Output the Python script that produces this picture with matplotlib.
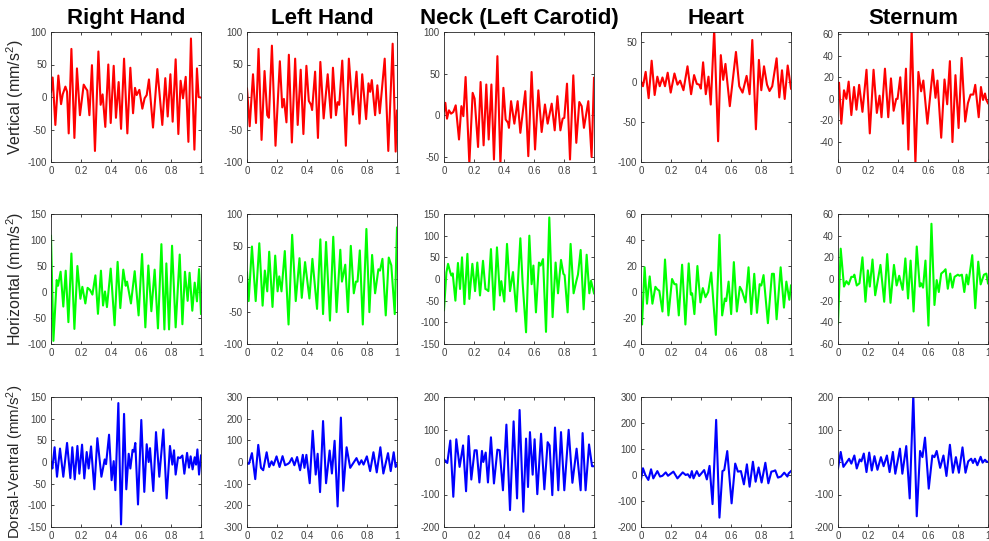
import matplotlib
matplotlib.use("Agg")
import matplotlib.pyplot as plt
from matplotlib.ticker import FuncFormatter

plt.rcParams['font.family'] = ['Liberation Sans', 'DejaVu Sans']
plt.rcParams['mathtext.fontset'] = 'custom'
plt.rcParams['mathtext.rm'] = 'Liberation Sans'
plt.rcParams['mathtext.it'] = 'Liberation Sans'

# column titles and row labels
col_titles = ['Right Hand', 'Left Hand', 'Neck (Left Carotid)', 'Heart', 'Sternum']
row_labels = [r'Vertical (mm/s$^2$)', r'Horizontal (mm/s$^2$)', r'Dorsal-Ventral (mm/s$^2$)']
row_label_sizes = [11.5, 11.5, 10.8]
row_colors = ['#ff0000', '#00ff00', '#0000ff']

# ---- row 1: vertical ----
rh_v_t = [0, 0.011, 0.029, 0.049, 0.067, 0.078, 0.096, 0.107, 0.118, 0.136, 0.156, 0.173, 0.193, 0.218, 0.233, 0.242,
          0.256, 0.273, 0.293, 0.316, 0.331, 0.344, 0.362, 0.382, 0.398, 0.418, 0.433, 0.451, 0.467, 0.487, 0.509,
          0.529, 0.547, 0.56, 0.571, 0.589, 0.609, 0.624, 0.638, 0.653, 0.68, 0.709, 0.742, 0.762, 0.778, 0.796,
          0.811, 0.831, 0.849, 0.864, 0.88, 0.898, 0.916, 0.933, 0.956, 0.973, 0.984, 1.0]
rh_v_y = [8, 30, -43, 33, -11, 4, 16, 8, -56, 74, -63, 44, -28, 19, 13, 10,
          -28, 49, -83, 70, -12, 4, -46, 50, -40, 48, -32, 23, -49, 59, -56,
          45, -25, 14, 3, 11, -18, -2, 3, 27, -47, 43, -43, 29, -30, 35,
          -38, 58, -57, 25, -2, 31, -69, 90, -81, 44, 0, -1]

lh_v_t = [0, 0.018, 0.04, 0.06, 0.077, 0.097, 0.117, 0.135, 0.146, 0.166, 0.19, 0.219, 0.235, 0.246, 0.263, 0.279,
          0.299, 0.321, 0.338, 0.358, 0.376, 0.396, 0.412, 0.427, 0.434, 0.454, 0.473, 0.489, 0.511, 0.538, 0.56,
          0.573, 0.593, 0.604, 0.615, 0.635, 0.659, 0.679, 0.706, 0.73, 0.75, 0.768, 0.794, 0.81, 0.821, 0.832,
          0.854, 0.869, 0.885, 0.918, 0.942, 0.971, 0.991, 1.0]
lh_v_y = [13, -45, 35, -40, 74, -66, 40, -28, -32, 79, -75, 55, -16, -3, -39, 65,
          -70, 59, -43, 42, -57, 48, -6, -12, -20, 39, -63, 54, -33, 35, -32,
          45, -28, -8, -12, 56, -75, 59, -27, 39, -41, 35, -34, 21, 8, 26,
          -28, 18, -25, 59, -83, 82, -84, -21]

nk_v_t = [0, 0.009, 0.02, 0.033, 0.047, 0.062, 0.078, 0.1, 0.116, 0.129, 0.144, 0.169, 0.191, 0.204, 0.227, 0.244,
          0.264, 0.282, 0.298, 0.316, 0.333, 0.356, 0.376, 0.396, 0.411, 0.427, 0.433, 0.447, 0.469, 0.491, 0.509,
          0.542, 0.562, 0.584, 0.607, 0.629, 0.651, 0.673, 0.691, 0.718, 0.738, 0.756, 0.776, 0.791, 0.802, 0.82,
          0.84, 0.862, 0.882, 0.902, 0.918, 0.933, 0.962, 0.984, 1.0]
nk_v_y = [5, 15, -4, 6, 2, 4, 12, -29, 11, -1, 46, -58, 27, 20, -38, 40,
          -36, 37, -29, 37, -53, 71, -58, 33, -5, -9, -15, 17, -10, 17, -21,
          29, -49, 52, -41, 30, -20, 13, -10, 14, -18, 23, -18, -4, -3, 38,
          -53, 48, -33, 16, 11, -15, 17, -50, 45]

ht_v_t = [0, 0.013, 0.031, 0.051, 0.071, 0.091, 0.109, 0.125, 0.143, 0.16, 0.178, 0.198, 0.223, 0.243, 0.261, 0.283,
          0.31, 0.334, 0.354, 0.372, 0.388, 0.399, 0.414, 0.432, 0.45, 0.465, 0.488, 0.514, 0.532, 0.548, 0.563,
          0.592, 0.633, 0.655, 0.677, 0.704, 0.724, 0.742, 0.766, 0.786, 0.802, 0.82, 0.84, 0.857, 0.875, 0.904,
          0.922, 0.94, 0.958, 0.978, 1.0]
ht_v_y = [1, -5, 13, -20, 27, -16, 7, -5, 6, -5, 12, -13, 11, -3, 2, -10,
          20, -15, 9, -2, -3, -8, 25, -15, 7, -28, 66, -74, 34, 3, 23,
          -30, 38, -5, -13, 8, -15, 53, -59, 28, -10, 20, -3, -11, -5, 30,
          -19, 15, -21, 21, -8]

st_v_t = [0, 0.007, 0.022, 0.04, 0.056, 0.071, 0.089, 0.107, 0.123, 0.141, 0.163, 0.19, 0.212, 0.237, 0.259, 0.277,
          0.29, 0.313, 0.335, 0.353, 0.371, 0.388, 0.397, 0.415, 0.433, 0.453, 0.469, 0.491, 0.516, 0.536, 0.554,
          0.569, 0.596, 0.632, 0.65, 0.663, 0.688, 0.71, 0.728, 0.746, 0.763, 0.783, 0.804, 0.824, 0.848, 0.866,
          0.884, 0.902, 0.915, 0.938, 0.953, 0.967, 0.98, 0.989, 1.0]
st_v_y = [10, 15, -23, 8, 0, 16, -15, 11, -10, 13, -12, 27, -32, 27, -13, 3,
          -17, 28, -17, 19, -11, 0, 0, 20, -23, 28, -47, 64, -60, 25, 7,
          17, -23, 27, 1, 17, -36, 18, -5, 35, -40, 22, -27, 38, -21, -4,
          4, 4, 13, -17, 11, -1, 5, -1, -4]

# ---- row 2: horizontal ----
rh_h_t = [0, 0.016, 0.038, 0.047, 0.064, 0.082, 0.098, 0.116, 0.136, 0.156, 0.176, 0.196, 0.209, 0.229, 0.244, 0.26,
          0.276, 0.296, 0.313, 0.333, 0.347, 0.36, 0.373, 0.398, 0.424, 0.444, 0.462, 0.482, 0.498, 0.507, 0.533,
          0.558, 0.584, 0.607, 0.629, 0.649, 0.669, 0.691, 0.713, 0.736, 0.756, 0.769, 0.787, 0.807, 0.831, 0.858,
          0.876, 0.893, 0.911, 0.924, 0.942, 0.958, 0.973, 0.987, 1.0]
rh_h_y = [108, -94, 23, 12, 39, -28, 41, -58, 74, -71, 50, -13, 10, -22, 8, 4,
          -5, 32, -42, 41, -26, 1, -29, 45, -64, 58, -31, 43, 12, 20, -22,
          40, -45, 73, -68, 51, -37, 43, -70, 92, -72, 55, -72, 89, -68, 72,
          -62, 39, -17, 37, -36, 18, -18, 44, -42]

lh_h_t = [0, 0.011, 0.033, 0.058, 0.082, 0.104, 0.119, 0.135, 0.148, 0.17, 0.188, 0.204, 0.215, 0.23, 0.252, 0.277,
          0.301, 0.325, 0.35, 0.365, 0.387, 0.416, 0.436, 0.467, 0.489, 0.507, 0.527, 0.553, 0.575, 0.597, 0.622,
          0.633, 0.655, 0.673, 0.692, 0.712, 0.726, 0.737, 0.752, 0.772, 0.796, 0.816, 0.834, 0.854, 0.876, 0.887,
          0.903, 0.925, 0.945, 0.962, 0.985, 1.0]
lh_h_y = [10, -34, 50, -34, 55, -41, 13, -19, 42, -43, 36, -19, 4, -19, 43, -70,
          68, -34, 32, -29, 26, -30, 31, -46, 61, -54, 57, -64, 65, -51, 45,
          -4, 22, -51, 51, -22, -4, -4, 44, -70, 77, -51, 37, -22, 15, 13,
          31, -56, 33, 21, -54, 79]

nk_h_t = [0, 0.016, 0.027, 0.042, 0.049, 0.058, 0.076, 0.093, 0.107, 0.12, 0.136, 0.156, 0.169, 0.189, 0.207, 0.222,
          0.24, 0.26, 0.276, 0.287, 0.296, 0.313, 0.333, 0.353, 0.373, 0.382, 0.402, 0.42, 0.44, 0.46, 0.482,
          0.509, 0.524, 0.547, 0.569, 0.584, 0.596, 0.613, 0.633, 0.644, 0.66, 0.68, 0.702, 0.724, 0.744, 0.76,
          0.78, 0.796, 0.804, 0.824, 0.844, 0.864, 0.882, 0.893, 0.911, 0.931, 0.951, 0.969, 0.98, 1.0]
nk_h_y = [-72, 15, 35, 15, 8, 13, -50, 37, -23, 50, -58, 58, -46, 35, -28, 38,
          -38, 42, -23, -25, -28, 69, -71, 73, -38, -5, -52, 81, -28, 16, -75,
          94, -8, -123, 100, -12, 31, -77, 38, 31, 46, -122, 142, -88, 38, -33,
          44, 12, 9, -77, 81, -33, -5, 10, 67, -70, 56, -33, -4, -33]

ht_h_t = [0, 0.007, 0.024, 0.04, 0.058, 0.076, 0.096, 0.109, 0.122, 0.143, 0.16, 0.183, 0.207, 0.223, 0.236, 0.252,
          0.274, 0.296, 0.318, 0.332, 0.341, 0.356, 0.376, 0.396, 0.412, 0.43, 0.448, 0.468, 0.499, 0.523, 0.541,
          0.559, 0.568, 0.584, 0.601, 0.619, 0.639, 0.659, 0.673, 0.697, 0.717, 0.735, 0.755, 0.773, 0.791, 0.802,
          0.817, 0.846, 0.873, 0.886, 0.904, 0.931, 0.953, 0.969, 0.989, 1.0]
ht_h_y = [-15, -25, 19, -9, 12, -9, 4, 2, 1, -15, 25, -18, 10, 6, 6, -18,
          21, -25, 22, -2, -1, -17, 20, -8, 3, -4, 0, 15, -33, 44, -18,
          -5, -7, 8, -17, 23, -15, 4, 1, -8, 19, -17, 14, -16, 6, 5,
          13, -24, 14, 14, -21, 19, -12, 8, -6, 5]

st_h_t = [0, 0.018, 0.04, 0.056, 0.071, 0.089, 0.103, 0.109, 0.125, 0.143, 0.163, 0.183, 0.199, 0.212, 0.23, 0.248,
          0.283, 0.308, 0.328, 0.35, 0.373, 0.391, 0.408, 0.431, 0.449, 0.467, 0.484, 0.504, 0.525, 0.545, 0.554,
          0.567, 0.583, 0.603, 0.623, 0.643, 0.658, 0.672, 0.688, 0.705, 0.717, 0.732, 0.748, 0.763, 0.777, 0.799,
          0.81, 0.826, 0.842, 0.857, 0.868, 0.895, 0.915, 0.935, 0.951, 0.973, 0.989, 1.0]
st_h_y = [-41, 28, -7, -2, -5, 2, 2, 4, -6, -4, 20, -21, 8, -7, 18, -15,
          13, -21, 23, -22, 13, -6, 3, -10, 19, -18, 17, -30, 30, -7, -4,
          -8, 17, -43, 51, -24, -1, -12, 5, 7, 9, -9, 5, -8, 2, 4,
          3, 4, -12, 4, -5, 22, -27, 16, -5, 4, 5, -4]

# ---- row 3: dorsal-ventral ----
rh_d_t = [0, 0.009, 0.024, 0.04, 0.06, 0.082, 0.107, 0.129, 0.142, 0.158, 0.176, 0.189, 0.207, 0.222, 0.238, 0.251,
          0.267, 0.289, 0.309, 0.336, 0.358, 0.367, 0.387, 0.404, 0.418, 0.429, 0.449, 0.467, 0.487, 0.502, 0.518,
          0.529, 0.544, 0.553, 0.562, 0.58, 0.602, 0.622, 0.638, 0.651, 0.66, 0.682, 0.7, 0.722, 0.749, 0.771,
          0.793, 0.809, 0.82, 0.831, 0.847, 0.86, 0.876, 0.889, 0.907, 0.92, 0.931, 0.944, 0.958, 0.967, 0.976,
          0.987, 1.0]
rh_d_y = [0, -15, 34, -34, 31, -34, 44, -37, 34, -40, 37, -27, 40, -38, 23, -15,
          36, -63, 55, -34, 6, -5, 63, -42, 2, -65, 136, -144, 111, -63, 19,
          -15, 28, 24, 44, -98, 97, -69, 41, 0, 32, -67, 69, -34, 75, -84,
          37, -6, 27, -29, 11, 9, 15, -27, 21, -13, 13, -17, 11, -6, 29,
          -29, 15]

lh_d_t = [0, 0.013, 0.033, 0.055, 0.075, 0.093, 0.108, 0.131, 0.148, 0.164, 0.177, 0.197, 0.217, 0.237, 0.254, 0.272,
          0.283, 0.299, 0.316, 0.334, 0.354, 0.372, 0.383, 0.396, 0.418, 0.438, 0.458, 0.471, 0.487, 0.507, 0.527,
          0.551, 0.566, 0.584, 0.604, 0.626, 0.642, 0.664, 0.688, 0.73, 0.748, 0.763, 0.777, 0.799, 0.821, 0.843,
          0.865, 0.889, 0.909, 0.94, 0.958, 0.978, 0.991, 1.0]
lh_d_y = [-8, -8, 41, -79, 79, -27, -38, 45, -23, 3, -15, 26, -23, 27, -15, -9,
          -3, 18, -15, 23, -38, 33, -27, 33, -98, 144, -58, 38, -139, 189, -98,
          53, -53, 98, -205, 205, -133, 68, -27, 18, -12, 8, -12, 26, -42, 45,
          -48, 68, -53, 41, -42, 45, -23, -12]

nk_d_t = [0, 0.022, 0.042, 0.062, 0.082, 0.104, 0.127, 0.147, 0.164, 0.182, 0.204, 0.218, 0.236, 0.253, 0.262, 0.278,
          0.293, 0.313, 0.333, 0.356, 0.371, 0.393, 0.416, 0.44, 0.464, 0.487, 0.504, 0.529, 0.547, 0.56, 0.573,
          0.591, 0.604, 0.622, 0.647, 0.669, 0.691, 0.704, 0.722, 0.74, 0.762, 0.78, 0.802, 0.831, 0.856, 0.884,
          0.911, 0.924, 0.944, 0.967, 0.987, 1.0]
nk_d_y = [8, -3, 66, -107, 70, -15, 51, -90, 80, -54, 36, 36, -63, 34, 0, 29,
          -63, 76, -66, 38, 36, -87, 115, -148, 125, -112, 160, -153, 72, -77, 92,
          -39, 70, -99, 87, -84, 61, 51, -102, 106, -87, 92, -87, 99, -64, 41,
          -87, 89, -87, 54, -13, -13]

ht_d_t = [0, 0.013, 0.029, 0.049, 0.067, 0.082, 0.109, 0.127, 0.143, 0.165, 0.18, 0.216, 0.243, 0.278, 0.298, 0.312,
          0.327, 0.339, 0.35, 0.372, 0.388, 0.421, 0.439, 0.457, 0.477, 0.501, 0.523, 0.543, 0.555, 0.575, 0.604,
          0.628, 0.646, 0.666, 0.686, 0.706, 0.724, 0.746, 0.764, 0.784, 0.804, 0.829, 0.849, 0.869, 0.884, 0.895,
          0.913, 0.933, 0.955, 0.976, 0.984, 1.0]
ht_d_y = [-17, 26, 0, -19, 22, -13, 15, -6, -3, 10, -3, 13, -13, 10, 0, 3,
          -10, 15, -13, 15, -4, 19, -17, 35, -112, 212, -164, 15, 19, 92, -109,
          44, 13, 15, -36, 41, -45, 51, -26, 29, -29, 47, -32, 13, 15, 18,
          -10, -6, 9, -6, 6, 15]

st_d_t = [0, 0.018, 0.036, 0.056, 0.074, 0.089, 0.109, 0.125, 0.145, 0.156, 0.172, 0.19, 0.208, 0.225, 0.243, 0.263,
          0.286, 0.304, 0.326, 0.344, 0.366, 0.382, 0.413, 0.429, 0.455, 0.478, 0.502, 0.525, 0.547, 0.563, 0.58,
          0.605, 0.629, 0.643, 0.658, 0.681, 0.703, 0.723, 0.746, 0.766, 0.786, 0.806, 0.83, 0.85, 0.868, 0.888,
          0.9, 0.913, 0.929, 0.951, 0.964, 0.98, 0.989, 1.0]
st_d_y = [-20, 31, -15, -2, 10, -5, 20, -20, 8, 2, 26, -31, 29, -26, 18, -24,
          15, -13, 20, -31, 31, -36, 41, -36, 49, -112, 207, -167, 34, 15, 75,
          -82, 20, 15, 34, -18, 20, -43, 53, -33, 15, -33, 45, -33, 2, 10,
          -3, 10, -10, 16, -2, 7, 2, 0]

series = [[(rh_v_t, rh_v_y), (lh_v_t, lh_v_y), (nk_v_t, nk_v_y), (ht_v_t, ht_v_y), (st_v_t, st_v_y)],
          [(rh_h_t, rh_h_y), (lh_h_t, lh_h_y), (nk_h_t, nk_h_y), (ht_h_t, ht_h_y), (st_h_t, st_h_y)],
          [(rh_d_t, rh_d_y), (lh_d_t, lh_d_y), (nk_d_t, nk_d_y), (ht_d_t, ht_d_y), (st_d_t, st_d_y)]]

ylims = [[(-100, 100), (-100, 100), (-56, 100), (-100, 63), (-58.5, 62)],
         [(-100, 150), (-100, 100), (-150, 150), (-40, 60), (-60, 60)],
         [(-150, 150), (-300, 300), (-200, 200), (-200, 300), (-200, 200)]]
ysteps = [[50, 50, 50, 50, 20],
          [50, 50, 50, 20, 20],
          [50, 100, 100, 100, 100]]

W, H = 989, 541
fig = plt.figure(figsize=(W / 100, H / 100), dpi=100)

lefts = [51, 247, 444, 641, 838]
tops = [32, 214, 397]
aw, ah = 150, 130

for r in range(3):
    for c in range(5):
        ax = fig.add_axes([lefts[c] / W, (H - tops[r] - ah) / H, aw / W, ah / H])
        t, y = series[r][c]
        ax.plot(t, y, color=row_colors[r], lw=1.5)
        lo, hi = ylims[r][c]
        ax.set_xlim(0, 1)
        ax.set_ylim(lo, hi)
        st = ysteps[r][c]
        first = -(-lo // st) * st
        ticks = []
        v = first
        while v <= hi + 1e-9:
            ticks.append(v)
            v += st
        ax.set_yticks(ticks)
        ax.set_xticks([0, 0.2, 0.4, 0.6, 0.8, 1.0])
        ax.xaxis.set_major_formatter(FuncFormatter(lambda v, p: '%g' % v))
        ax.yaxis.set_major_formatter(FuncFormatter(lambda v, p: '%g' % v))
        ax.tick_params(direction='in', top=True, right=True, length=2.5, width=0.6,
                       labelsize=7, colors='#262626', labelcolor='#404040', pad=3)
        for s in ax.spines.values():
            s.set_color('#262626')
            s.set_linewidth(0.6)
        if r == 0:
            ax.set_title(col_titles[c], fontsize=16, fontweight='bold', pad=6)
        if c == 0:
            ax.set_ylabel(row_labels[r], fontsize=row_label_sizes[r], color='#262626')
            ax.yaxis.set_label_coords(-0.165, 0.5)

fig.savefig('out.png', dpi=100)
